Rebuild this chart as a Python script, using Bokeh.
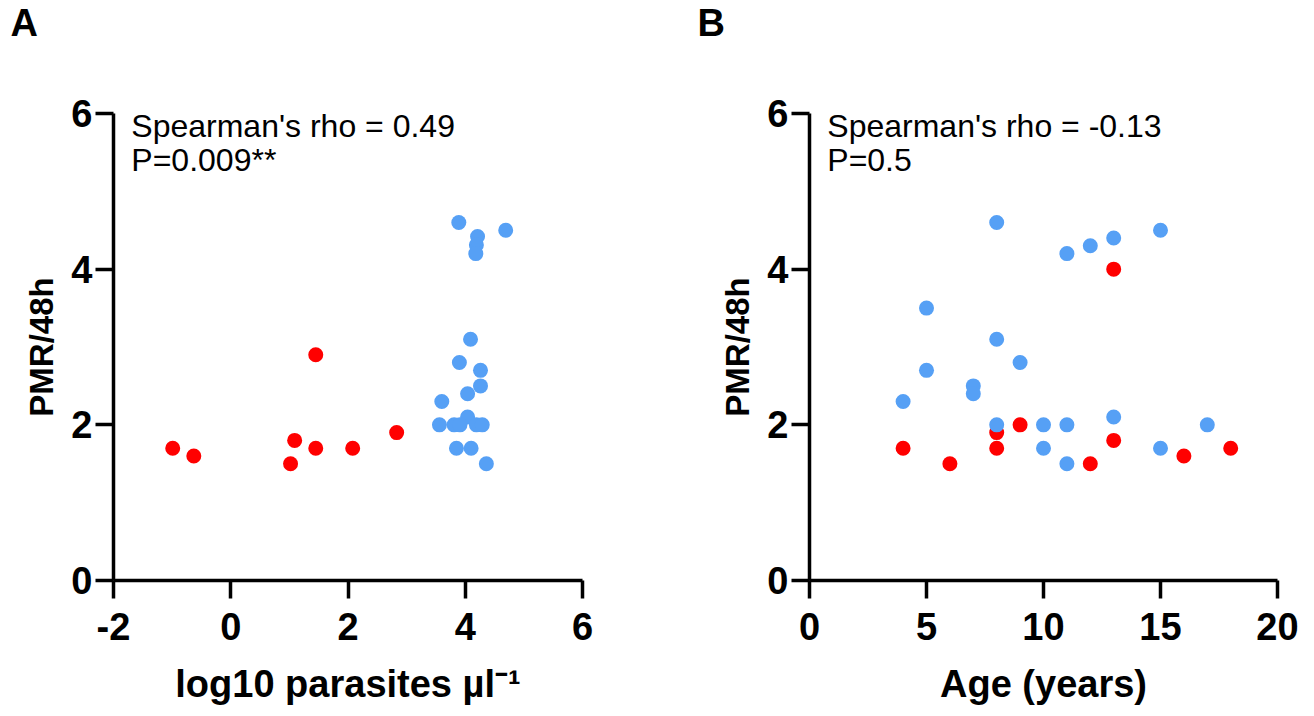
from bokeh.plotting import figure
from bokeh.layouts import row
from bokeh.models import Range1d, FixedTicker, Label, Title
from bokeh.embed import file_html
from bokeh.resources import INLINE

# ---- data ----
A_blue_x = [3.89, 4.69, 4.21, 4.19, 4.18, 4.09, 3.90, 4.26, 4.26, 4.04, 3.60, 4.04, 3.56, 3.81, 3.91, 4.19, 4.29, 3.85, 4.10, 4.36]
A_blue_y = [4.60, 4.50, 4.42, 4.31, 4.20, 3.10, 2.80, 2.70, 2.50, 2.40, 2.30, 2.10, 2.00, 2.00, 2.00, 2.00, 2.00, 1.70, 1.70, 1.50]
A_red_x = [-0.99, -0.63, 1.45, 1.09, 1.45, 1.02, 2.08, 2.83]
A_red_y = [1.70, 1.60, 2.90, 1.80, 1.70, 1.50, 1.70, 1.90]

B_blue_x = [8, 11, 12, 13, 15, 5, 8, 9, 5, 7, 7, 4, 8, 10, 11, 13, 10, 11, 15, 17]
B_blue_y = [4.6, 4.2, 4.3, 4.4, 4.5, 3.5, 3.1, 2.8, 2.7, 2.5, 2.4, 2.3, 2.0, 2.0, 2.0, 2.1, 1.7, 1.5, 1.7, 2.0]
B_red_x = [13, 8, 9, 4, 8, 6, 12, 13, 16, 18]
B_red_y = [4.0, 1.9, 2.0, 1.7, 1.7, 1.5, 1.5, 1.8, 1.6, 1.7]

A_xticks = [-2, 0, 2, 4, 6]
B_xticks = [0, 5, 10, 15, 20]
y_ticks = [0, 2, 4, 6]

A_stats = ["Spearman's rho = 0.49", "P=0.009**"]
B_stats = ["Spearman's rho = -0.13", "P=0.5"]

BLUE = "#56A0F5"
RED = "#FF0000"
FONT = "Liberation Sans"


def make_panel(letter, bx, by, rx, ry, xr, xticks, xlabel, stats, mbl, mbr, fw, letter_x):
    p = figure(output_backend="svg", toolbar_location=None,
               frame_width=fw, frame_height=467,
               min_border_left=mbl, min_border_right=mbr,
               min_border_top=113, min_border_bottom=120,
               x_range=Range1d(*xr), y_range=Range1d(0, 6))
    p.outline_line_color = None
    p.grid.visible = False
    p.background_fill_color = "white"
    p.border_fill_color = "white"

    p.scatter(rx, ry, size=15, color=RED, line_color=None)
    p.scatter(bx, by, size=15, color=BLUE, line_color=None)

    for ax in (p.xaxis[0], p.yaxis[0]):
        ax.axis_line_width = 3.5
        ax.major_tick_line_width = 3.5
        ax.major_tick_out = 18
        ax.major_tick_in = 0
        ax.minor_tick_line_color = None
        ax.major_label_text_font = FONT
        ax.major_label_text_font_style = "bold"
        ax.major_label_text_font_size = "38px"
        ax.major_label_text_color = "black"
        ax.axis_label_text_font = FONT
        ax.axis_label_text_font_style = "bold"
        ax.axis_label_text_color = "black"
        ax.axis_line_color = "black"
        ax.major_tick_line_color = "black"

    p.xaxis[0].axis_label_text_font_size = "38px"
    p.yaxis[0].axis_label_text_font_size = "33px"
    p.xaxis[0].ticker = FixedTicker(ticks=xticks)
    p.xaxis[0].major_label_overrides = {t: str(t) for t in xticks}
    p.yaxis[0].ticker = FixedTicker(ticks=y_ticks)
    p.xaxis[0].axis_label = xlabel
    p.yaxis[0].axis_label = "PMR/48h"
    p.xaxis[0].major_label_standoff = 14
    p.xaxis[0].axis_label_standoff = 20
    p.yaxis[0].major_label_standoff = 3
    p.yaxis[0].axis_label_standoff = 8

    x0 = xr[0] + (xr[1] - xr[0]) * 0.038
    p.add_layout(Label(x=x0, y=5.835, text=stats[0], text_baseline="alphabetic",
                       text_font=FONT, text_font_size="32px", text_color="black"))
    p.add_layout(Label(x=x0, y=5.405, text=stats[1], text_baseline="alphabetic",
                       text_font=FONT, text_font_size="32px", text_color="black"))

    # panel letter as the plot title, shifted to the top-left corner of the canvas
    p.title.text = letter
    p.title.align = "left"
    p.title.offset = -letter_x
    try:
        p.title.standoff = -12
        sp_standoff = 63
    except Exception:
        p.title.standoff = 0
        sp_standoff = 51
    p.title.text_font = FONT
    p.title.text_font_style = "bold"
    p.title.text_font_size = "38px"
    p.title.text_color = "black"

    # blank spacer title next to the frame, so the panel letter sits at the canvas top
    p.add_layout(Title(text=" ", text_font_size="10px", standoff=sp_standoff), "above")
    return p


pA = make_panel("A", A_blue_x, A_blue_y, A_red_x, A_red_y, (-2, 6), A_xticks,
                "log10 parasites µl⁻¹", A_stats, 113, 75, 469, 103)
pB = make_panel("B", B_blue_x, B_blue_y, B_red_x, B_red_y, (0, 20), B_xticks,
                "Age (years)", B_stats, 152, 29, 468, 112)

layout = row(pA, pB)
open("out.html", "w").write(file_html(layout, INLINE))
